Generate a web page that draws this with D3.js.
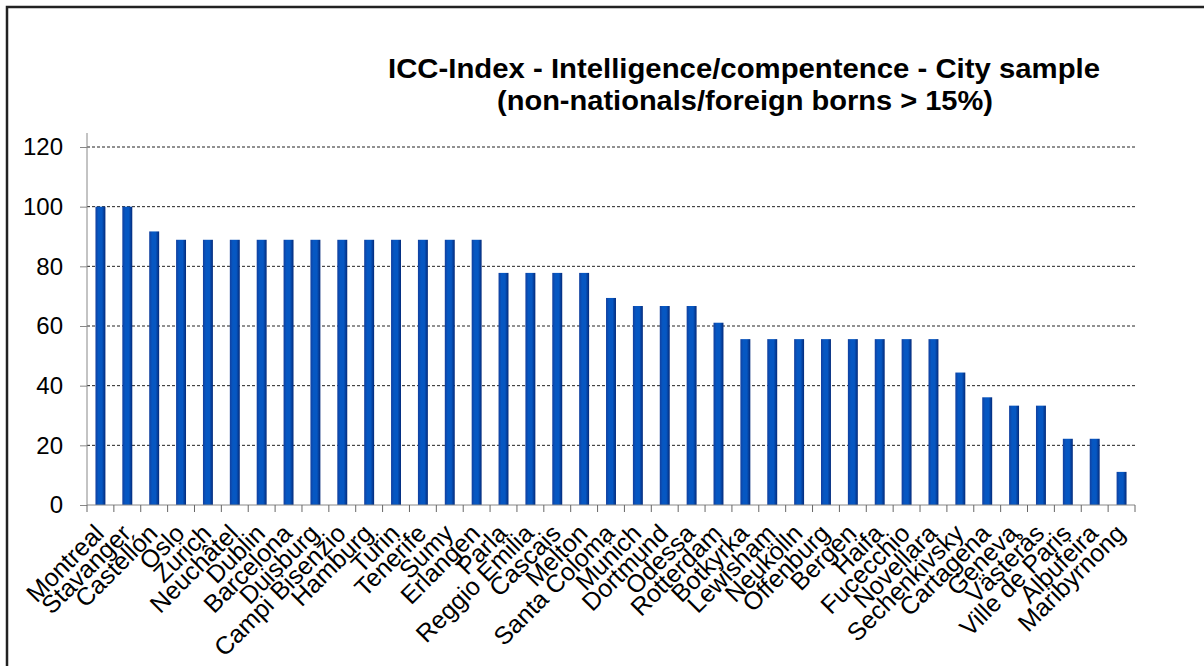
<!DOCTYPE html>
<html>
<head>
<meta charset="utf-8">
<script src="https://cdn.jsdelivr.net/npm/d3@7"></script>
<style>
  html, body { margin: 0; padding: 0; background: #fff; }
  svg { display: block; }
  text { font-family: "Liberation Sans", Arial, sans-serif; fill: #000; }
</style>
</head>
<body>
<svg id="chart" width="1204" height="666"></svg>
<script>
const titleLines = ["ICC-Index - Intelligence/compentence - City sample", "(non-nationals/foreign borns > 15%)"];
const cities = ["Montreal","Stavanger","Castellón","Oslo","Zurich","Neuchâtel","Dublin","Barcelona","Duisburg","Campi Bisenzio","Hamburg","Turin","Tenerife","Sumy","Erlangen","Parla","Reggio Emilia","Cascais","Melton","Santa Coloma","Munich","Dortmund","Odessa","Rotterdam","Botkyrka","Lewisham","Neukölln","Offenburg","Bergen","Haifa","Fucecchio","Novellara","Sechenkivsky","Cartagena","Geneva","Västerås","Ville de Paris","Albufeira","Maribyrnong"];
const values = [100,100,91.7,88.9,88.9,88.9,88.9,88.9,88.9,88.9,88.9,88.9,88.9,88.9,88.9,77.8,77.8,77.8,77.8,69.4,66.7,66.7,66.7,61.1,55.6,55.6,55.6,55.6,55.6,55.6,55.6,55.6,44.4,36.1,33.3,33.3,22.2,22.2,11.1];
const yTicks = [0,20,40,60,80,100,120];

const svg = d3.select("#chart");
const plotLeft = 87, plotRight = 1135, plotBottom = 505, plotTop = 147, axisTop = 133;

// border
svg.append("rect").attr("x", 7).attr("y", 7).attr("width", 1220).attr("height", 700)
  .attr("fill", "none").attr("stroke", "#222").attr("stroke-width", 2.5);

const defs = svg.append("defs");
const grad = defs.append("linearGradient").attr("id", "barGrad").attr("x1", "0%").attr("x2", "100%");
grad.append("stop").attr("offset", "0%").attr("stop-color", "#123f9e");
grad.append("stop").attr("offset", "30%").attr("stop-color", "#0657c2");
grad.append("stop").attr("offset", "65%").attr("stop-color", "#0657c2");
grad.append("stop").attr("offset", "100%").attr("stop-color", "#042a7a");

const x = d3.scaleBand().domain(cities).range([plotLeft, plotRight]).paddingInner(0.63).paddingOuter(0.315);
const y = d3.scaleLinear().domain([0, 120]).range([plotBottom, plotTop]);

// gridlines
svg.append("g").selectAll("line").data(yTicks.filter(d => d > 0)).join("line")
  .attr("x1", plotLeft).attr("x2", plotRight)
  .attr("y1", d => y(d)).attr("y2", d => y(d))
  .attr("stroke", "#222").attr("stroke-width", 1).attr("stroke-dasharray", "3,2");

// bars
svg.append("g").selectAll("rect").data(cities).join("rect")
  .attr("x", d => x(d))
  .attr("y", (d, i) => y(values[i]))
  .attr("width", x.bandwidth())
  .attr("height", (d, i) => y(0) - y(values[i]))
  .attr("fill", "url(#barGrad)");

// y axis
const yAxis = d3.axisLeft(y).tickValues(yTicks).tickSize(7).tickPadding(17).tickSizeOuter(0);
const gy = svg.append("g").attr("transform", `translate(${plotLeft},0)`).call(yAxis);
gy.select(".domain").remove();
gy.selectAll(".tick line").attr("stroke", "#888");
gy.selectAll(".tick text").attr("font-size", 24).attr("fill", "#111")
  .attr("font-family", "'Liberation Sans', Arial, sans-serif");
svg.append("line").attr("x1", plotLeft).attr("x2", plotLeft).attr("y1", axisTop).attr("y2", plotBottom)
  .attr("stroke", "#888").attr("stroke-width", 1);

// x axis line + ticks at category boundaries
const step = x.step();
const bounds = cities.map(c => x(c) - step * x.paddingInner() / 2).concat([plotRight]);
svg.append("line").attr("x1", plotLeft).attr("x2", plotRight).attr("y1", plotBottom).attr("y2", plotBottom)
  .attr("stroke", "#888").attr("stroke-width", 1);
svg.append("g").selectAll("line").data(bounds).join("line")
  .attr("x1", d => d).attr("x2", d => d).attr("y1", plotBottom).attr("y2", plotBottom + 7)
  .attr("stroke", "#666").attr("stroke-width", 1);

// x labels
svg.append("g").selectAll("text").data(cities).join("text")
  .attr("transform", d => `translate(${x(d) + x.bandwidth() / 2 + 5},${plotBottom + 30}) rotate(-45)`)
  .attr("text-anchor", "end")
  .attr("font-size", 25)
  .attr("fill", "#111")
  .text(d => d);

// title
svg.append("text").attr("x", 744).attr("y", 78).attr("text-anchor", "middle")
  .attr("font-size", 28).attr("font-weight", "bold")
  .attr("textLength", 712).attr("lengthAdjust", "spacingAndGlyphs").text(titleLines[0]);
svg.append("text").attr("x", 745).attr("y", 110).attr("text-anchor", "middle")
  .attr("font-size", 28).attr("font-weight", "bold")
  .attr("textLength", 496).attr("lengthAdjust", "spacingAndGlyphs").text(titleLines[1]);
</script>
</body>
</html>
